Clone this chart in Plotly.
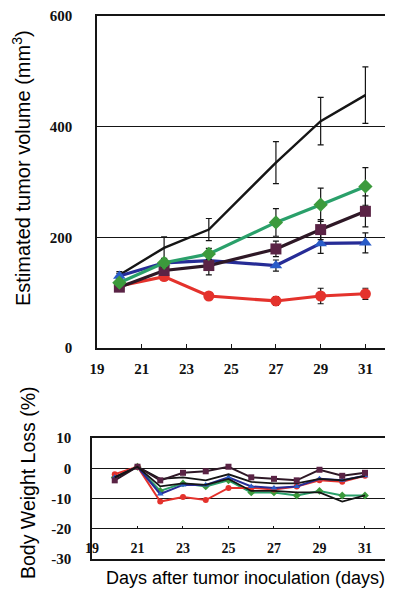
import plotly.graph_objects as go

# The page body has an 8px default margin; the figure is sized so the
# visible 393x592 window matches the reference layout.
PAGE_W, PAGE_H = 393, 592
OFF = 8
W, H = PAGE_W - OFF, PAGE_H - OFF

# ---------------- Tumor volume data ----------------
days_tv = [20, 22, 24, 27, 29, 31]
tv_control = [132, 181, 214, 335, 410, 457]
tv_control_err = [6, 20, 20, 38, 43, 51]
tv_green = [118, 154, 170, 227, 259, 292]
tv_green_err = [5, 8, 10, 25, 30, 34]
tv_maroon = [110, 140, 149, 179, 214, 247]
tv_maroon_err = [5, 8, 17, 14, 18, 28]
tv_blue = [130, 154, 158, 149, 189, 190]
tv_blue_err = [5, 6, 8, 10, 18, 18]
tv_red = [112, 129, 94, 85, 94, 98]
tv_red_err = [5, 6, 6, 8, 14, 10]

tv_xticks = [19, 21, 23, 25, 27, 29, 31]
tv_yticks = [0, 200, 400, 600]

# ---------------- Body weight data ----------------
days_bw = [20, 21, 22, 23, 24, 25, 26, 27, 28, 29, 30, 31]
bw_maroon = [-4, 0.5, -4, -1.5, -1, 0.5, -3, -3.5, -4, -0.5, -2.5, -1.5]
bw_black_upper = [-3, 0.5, -3.5, -3, -4, -2, -4.5, -5, -5, -3.5, -4, -2.5]
bw_blue = [-3, 0.5, -8.5, -5.5, -5.5, -3, -6, -6.5, -6, -3.5, -4, -2.5]
bw_red = [-2, 0.5, -11, -9.5, -10.5, -6.5, -6.5, -7, -6, -4, -4.5, -2.5]
bw_green = [-3, 0.5, -7.5, -5, -6, -4, -8, -8, -9, -7.5, -9, -9]
bw_black_lower = [-3, 0.5, -6, -5, -5.5, -3.5, -7.5, -7.5, -8, -8, -11, -9]

bw_xticks = [19, 21, 23, 25, 27, 29, 31]
bw_yticks = [10, 0, -10, -20, -30]
bw_xaxis_level = -20  # value where the body-weight day axis is drawn

BLACK = "#151515"
GREEN_LINE = "#2aa06a"
GREEN_MK = "#3c9a3c"
MAROON_LINE = "#2e1826"
MAROON_MK = "#5a2345"
BLUE_LINE = "#262c96"
BLUE_MK = "#2a5cc8"
RED = "#e4322c"

fig = go.Figure()

def eb(arr, color):
    return dict(type="data", array=arr, color=color, thickness=1.2, width=3)

# top chart
fig.add_trace(go.Scatter(x=days_tv, y=tv_control, mode="lines", line=dict(color=BLACK, width=2.4),
                         error_y=eb(tv_control_err, BLACK), xaxis="x", yaxis="y"))
fig.add_trace(go.Scatter(x=days_tv, y=tv_red, mode="lines+markers", line=dict(color=RED, width=3.2),
                         marker=dict(symbol="circle", size=11, color=RED),
                         error_y=eb(tv_red_err, BLACK), xaxis="x", yaxis="y"))
fig.add_trace(go.Scatter(x=days_tv, y=tv_blue, mode="lines+markers", line=dict(color=BLUE_LINE, width=3.2),
                         marker=dict(symbol="triangle-up", size=11, color=BLUE_MK),
                         error_y=eb(tv_blue_err, BLACK), xaxis="x", yaxis="y"))
fig.add_trace(go.Scatter(x=days_tv, y=tv_maroon, mode="lines+markers", line=dict(color=MAROON_LINE, width=3.2),
                         marker=dict(symbol="square", size=11, color=MAROON_MK),
                         error_y=eb(tv_maroon_err, BLACK), xaxis="x", yaxis="y"))
fig.add_trace(go.Scatter(x=days_tv, y=tv_green, mode="lines+markers", line=dict(color=GREEN_LINE, width=3.2),
                         marker=dict(symbol="diamond", size=11, color=GREEN_MK),
                         error_y=eb(tv_green_err, BLACK), xaxis="x", yaxis="y"))

# bottom chart (lower black line on overlay axis x3 that carries the day labels at -20)
fig.add_trace(go.Scatter(x=days_bw, y=bw_black_lower, mode="lines", line=dict(color=BLACK, width=1.8),
                         xaxis="x3", yaxis="y2"))
fig.add_trace(go.Scatter(x=days_bw, y=bw_green, mode="lines+markers", line=dict(color=GREEN_LINE, width=2),
                         marker=dict(symbol="diamond", size=6, color=GREEN_MK), xaxis="x2", yaxis="y2"))
fig.add_trace(go.Scatter(x=days_bw, y=bw_red, mode="lines+markers", line=dict(color=RED, width=2),
                         marker=dict(symbol="circle", size=6, color=RED), xaxis="x2", yaxis="y2"))
fig.add_trace(go.Scatter(x=days_bw, y=bw_blue, mode="lines+markers", line=dict(color=BLUE_LINE, width=2),
                         marker=dict(symbol="triangle-up", size=6, color=BLUE_MK), xaxis="x2", yaxis="y2"))
fig.add_trace(go.Scatter(x=days_bw, y=bw_black_upper, mode="lines", line=dict(color=BLACK, width=1.8),
                         xaxis="x2", yaxis="y2"))
fig.add_trace(go.Scatter(x=days_bw, y=bw_maroon, mode="lines+markers", line=dict(color=MAROON_LINE, width=2),
                         marker=dict(symbol="square", size=6, color=MAROON_MK), xaxis="x2", yaxis="y2"))

tick_font = dict(family="Liberation Serif", size=15, color="#111", weight="bold")
tick_font_small = dict(family="Liberation Serif", size=14, color="#111", weight="bold")

def px_x(p):
    return (p - OFF) / W

def px_y(p):
    return 1 - (p - OFF) / H

bw_top_px, bw_bot_px = 438, 559
bw_range = [-30, 10]
axis_px = bw_bot_px - (bw_xaxis_level - bw_range[0]) / (bw_range[1] - bw_range[0]) * (bw_bot_px - bw_top_px)

fig.update_layout(
    width=W, height=H,
    margin=dict(l=0, r=0, t=0, b=0),
    paper_bgcolor="white", plot_bgcolor="white",
    showlegend=False,
    xaxis=dict(domain=[px_x(97), px_x(390)], anchor="y", range=[19, 32.1], automargin=False,
               tickvals=tv_xticks, ticktext=[str(v) for v in tv_xticks],
               showline=True, linecolor=BLACK, linewidth=1.5, mirror=True,
               ticks="inside", ticklen=4, tickcolor=BLACK, showgrid=False, zeroline=False,
               tickfont=tick_font, ticklabelstandoff=6),
    yaxis=dict(domain=[px_y(348), px_y(16)], anchor="x", range=[0, 600], automargin=False,
               tickvals=tv_yticks, ticktext=[str(v) for v in tv_yticks],
               showline=True, linecolor=BLACK, linewidth=1.5, mirror=True,
               ticks="", showgrid=True, gridcolor=BLACK, gridwidth=1, zeroline=False,
               tickfont=tick_font, ticklabelstandoff=20),
    xaxis2=dict(domain=[px_x(92), px_x(390)], anchor="y2", range=[19, 32.1], automargin=False,
                showline=True, linecolor=BLACK, linewidth=1.5, mirror=True,
                ticks="", showgrid=False, zeroline=False, showticklabels=False),
    xaxis3=dict(overlaying="x2", matches="x2", anchor="free", position=px_y(axis_px),
                range=[19, 32.1], domain=[px_x(92), px_x(390)], automargin=False,
                tickvals=bw_xticks, ticktext=[str(v) for v in bw_xticks],
                showline=False, ticks="inside", ticklen=3, tickcolor=BLACK,
                showgrid=False, zeroline=False,
                tickfont=tick_font_small, ticklabelstandoff=9),
    yaxis2=dict(domain=[px_y(bw_bot_px), px_y(bw_top_px)], anchor="x2", range=bw_range,
                automargin=False,
                tickvals=bw_yticks, ticktext=[str(v) for v in bw_yticks],
                showline=True, linecolor=BLACK, linewidth=1.5, mirror=True,
                ticks="", showgrid=True, gridcolor=BLACK, gridwidth=1, zeroline=False,
                tickfont=tick_font, ticklabelstandoff=16),
    annotations=[
        dict(text="Estimated tumor volume (mm<sup>3</sup>)", x=px_x(21), y=px_y(168),
             xref="paper", yref="paper", textangle=-90, showarrow=False,
             font=dict(family="Liberation Sans", size=20, color="#000"),
             xanchor="center", yanchor="middle"),
        dict(text="Body Weight Loss (%)", x=px_x(28), y=px_y(483),
             xref="paper", yref="paper", textangle=-90, showarrow=False,
             font=dict(family="Liberation Sans", size=19.5, color="#000"),
             xanchor="center", yanchor="middle"),
        dict(text="Days after tumor inoculation (days)", x=px_x(245), y=px_y(578),
             xref="paper", yref="paper", showarrow=False,
             font=dict(family="Liberation Sans", size=18, color="#000"),
             xanchor="center", yanchor="middle"),
    ],
)

fig.write_html("out.html")
